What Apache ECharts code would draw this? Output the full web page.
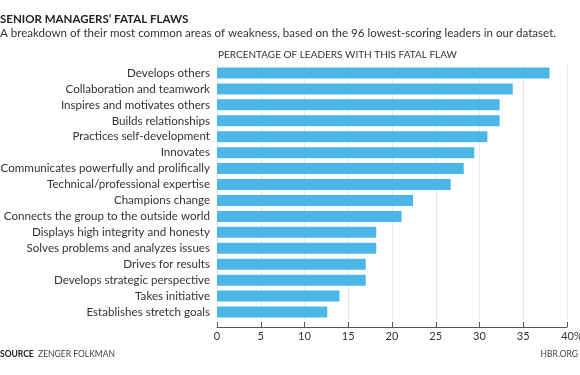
<!DOCTYPE html>
<html>
<head>
<meta charset="utf-8">
<script src="https://cdn.jsdelivr.net/npm/echarts@6/dist/echarts.min.js"></script>
<style>
  html, body { margin: 0; padding: 0; background: #fff; }
  #chart { width: 580px; height: 375px; }
</style>
</head>
<body>
<div id="chart"></div>
<script>
const categories = [
  "Develops others",
  "Collaboration and teamwork",
  "Inspires and motivates others",
  "Builds relationships",
  "Practices self-development",
  "Innovates",
  "Communicates powerfully and prolifically",
  "Technical/professional expertise",
  "Champions change",
  "Connects the group to the outside world",
  "Displays high integrity and honesty",
  "Solves problems and analyzes issues",
  "Drives for results",
  "Develops strategic perspective",
  "Takes initiative",
  "Establishes stretch goals"
];
const values = [38.0, 33.8, 32.3, 32.3, 30.9, 29.4, 28.2, 26.7, 22.4, 21.1, 18.2, 18.2, 17.0, 17.0, 14.0, 12.6];
const xTicks = [0, 5, 10, 15, 20, 25, 30, 35, 40];

const font = "Lato";
const chart = echarts.init(document.getElementById("chart"));

chart.setOption({
  animation: false,
  textStyle: { fontFamily: font },
  title: [
    {
      text: "SENIOR MANAGERS\u2019 FATAL FLAWS",
      left: 0, top: 13, padding: 0,
      textStyle: { fontFamily: font, fontSize: 11.5, fontWeight: "bold", color: "#222" }
    },
    {
      text: "A breakdown of their most common areas of weakness, based on the 96 lowest-scoring leaders in our dataset.",
      left: 0, top: 27, padding: 0,
      textStyle: { fontFamily: font, fontSize: 11.55, fontWeight: "normal", color: "#333" }
    },
    {
      text: "PERCENTAGE OF LEADERS WITH THIS FATAL FLAW",
      left: 218, top: 50, padding: 0,
      textStyle: { fontFamily: font, fontSize: 10, fontWeight: "normal", color: "#333" }
    },
    {
      text: "{b|SOURCE}  ZENGER FOLKMAN",
      left: 0, top: 350, padding: 0,
      textStyle: {
        fontFamily: font, fontSize: 8.5, fontWeight: "normal", color: "#444",
        rich: { b: { fontFamily: font, fontSize: 8.5, fontWeight: "bold", color: "#222" } }
      }
    },
    {
      text: "HBR.ORG",
      right: 2, top: 350, padding: 0,
      textStyle: { fontFamily: font, fontSize: 8.5, fontWeight: "normal", color: "#444" }
    }
  ],
  grid: { left: 217, right: 13, top: 65, bottom: 55, containLabel: false, outerBoundsMode: "none" },
  xAxis: {
    type: "value",
    min: 0,
    max: 40,
    interval: 5,
    offset: 7,
    axisLine: { show: true, lineStyle: { color: "#555", width: 1 } },
    axisTick: { show: true, inside: true, length: 5, lineStyle: { color: "#555" } },
    axisLabel: {
      color: "#333",
      fontSize: 11,
      margin: 4,
      formatter: function (v) {
        return v === xTicks[xTicks.length - 1] ? "{last|" + v + "%}" : String(v);
      },
      rich: { last: { fontSize: 11, color: "#333", padding: [0, 0, 0, 10] } }
    },
    splitLine: { show: true, lineStyle: { color: "#e8e8e8", width: 1 } }
  },
  yAxis: {
    type: "category",
    inverse: true,
    data: categories,
    axisLine: { show: false },
    axisTick: { show: false },
    axisLabel: { color: "#333", fontSize: 11.6, margin: 7 }
  },
  series: [
    {
      type: "bar",
      data: values,
      barWidth: 11,
      itemStyle: { color: "#4cb6e7" }
    }
  ]
});
</script>
</body>
</html>
